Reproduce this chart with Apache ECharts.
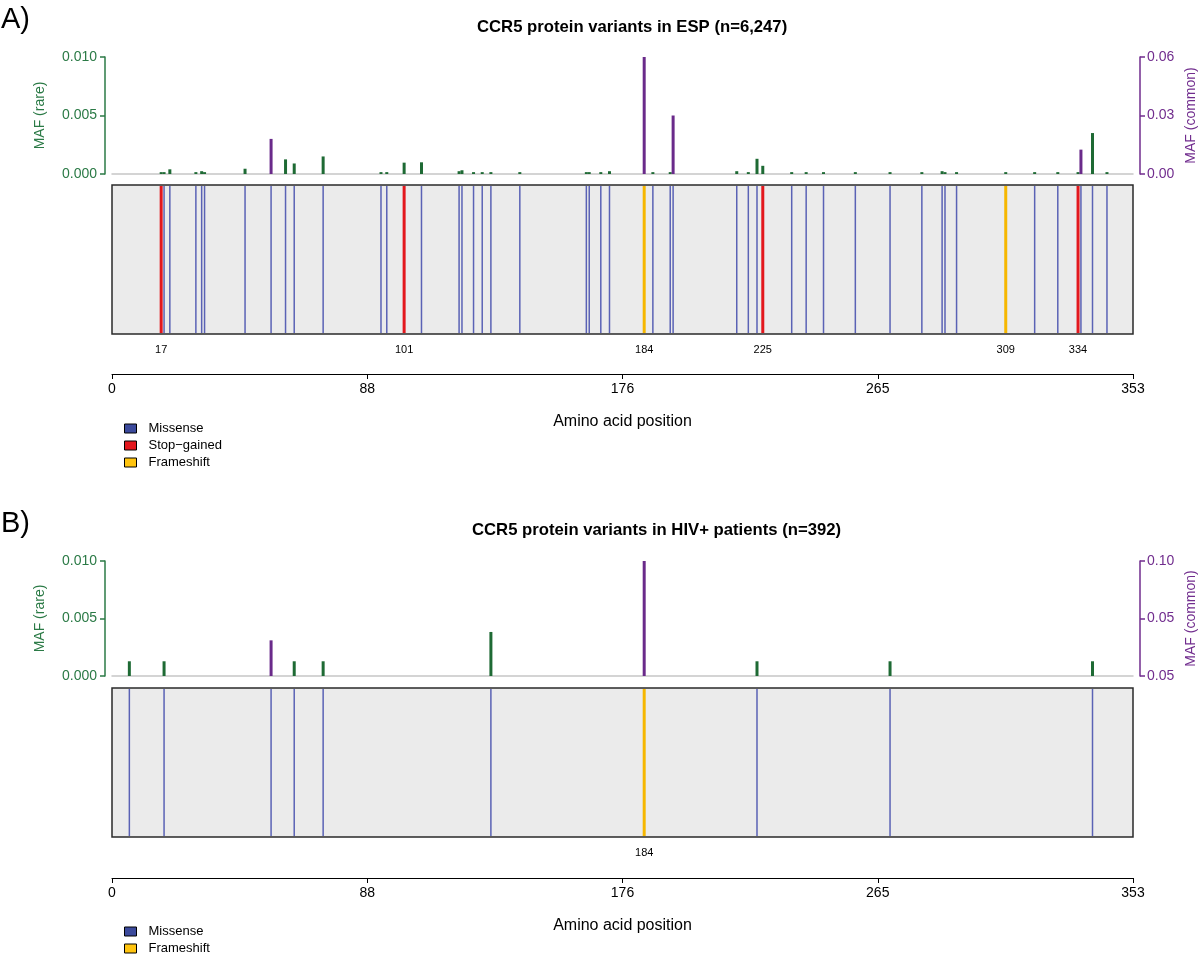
<!DOCTYPE html>
<html>
<head>
<meta charset="utf-8">
<title>CCR5 protein variants</title>
<style>
    html, body { margin: 0; padding: 0; background: #fff; }
    #chart { width: 1200px; height: 957px; }
</style>
</head>
<body>
<div id="chart"></div>
<script src="https://cdn.jsdelivr.net/npm/echarts@6.0.0/dist/echarts.min.js"></script>
<script>
    // panel A : ESP (n=6,247)
    var posA = [17, 18, 20, 29, 31, 32, 46, 55, 60, 63, 73, 93, 95, 101, 107, 120, 121, 125, 128, 131, 141,
        164, 165, 169, 172, 184, 187, 193, 194, 216, 220, 223, 225, 235, 240, 246, 257, 269, 280,
        287, 288, 292, 309, 319, 327, 334, 335, 339, 344];
    // M = missense, S = stop-gained, F = frameshift
    var typeA = ['S', 'M', 'M', 'M', 'M', 'M', 'M', 'M', 'M', 'M', 'M', 'M', 'M', 'S', 'M', 'M', 'M', 'M', 'M', 'M', 'M',
        'M', 'M', 'M', 'M', 'F', 'M', 'M', 'M', 'M', 'M', 'M', 'S', 'M', 'M', 'M', 'M', 'M', 'M',
        'M', 'M', 'M', 'F', 'M', 'M', 'S', 'M', 'M', 'M'];
    var rareA = [0.00016, 0.00016, 0.0004, 0.00016, 0.00024, 0.00016, 0.00045, 0, 0.00125, 0.0009, 0.0015,
        0.00016, 0.00016, 0.00097, 0.001, 0.00024, 0.00032, 0.00016, 0.00016, 0.00016, 0.00016,
        0.00016, 0.00016, 0.00016, 0.00024, 0, 0.00016, 0.00016, 0, 0.00024, 0.00016, 0.0013, 0.0007,
        0.00016, 0.00016, 0.00016, 0.00016, 0.00016, 0.00016, 0.00024, 0.00016, 0.00016, 0.00016,
        0.00016, 0.00016, 0.00016, 0, 0.0035, 0.00016];
    var commonA = [0, 0, 0, 0, 0, 0, 0, 0.018, 0, 0, 0, 0, 0, 0, 0, 0, 0, 0, 0, 0, 0,
        0, 0, 0, 0, 0.06, 0, 0, 0.03, 0, 0, 0, 0, 0, 0, 0, 0, 0, 0,
        0, 0, 0, 0, 0, 0, 0, 0.0125, 0, 0];

    // panel B : HIV+ patients (n=392)
    var posB = [6, 18, 55, 63, 73, 131, 184, 223, 269, 339];
    var typeB = ['M', 'M', 'M', 'M', 'M', 'M', 'F', 'M', 'M', 'M'];
    var rareB = [0.00128, 0.00128, 0, 0.00128, 0.00128, 0.00383, 0, 0.00128, 0.00128, 0.00128];
    var commonB = [0, 0, 0.031, 0, 0, 0, 0.10, 0, 0, 0];

    var posTicks = [0, 88, 176, 265, 353];
    var commonTicksB = ['0.05', '0.05', '0.10'];

    var FONT = 'Liberation Sans, Arial, Helvetica, sans-serif';
    var GREEN = '#2b7a46', GREEN_BAR = '#1e6a34';
    var PURPLE = '#712d8e', PURPLE_BAR = '#6a2a8a';
    var typeStyle = {
        M: {name: 'Missense', color: '#5a62b5', width: 1.5, legend: '#3b4a9c'},
        S: {name: 'Stop\u2212gained', color: '#e3171d', width: 3, legend: '#e3171d'},
        F: {name: 'Frameshift', color: '#f6b700', width: 3, legend: '#ffc40f'}
    };

    var chart = echarts.init(document.getElementById('chart'));

    function pick(pos, vals) {
        var out = [];
        for (var i = 0; i < pos.length; i++) {
            if (vals[i] > 0) out.push([pos[i], vals[i]]);
        }
        return out;
    }

    function ofType(pos, types, t) {
        var out = [];
        for (var i = 0; i < pos.length; i++) {
            if (types[i] === t) out.push([pos[i], 1]);
        }
        return out;
    }

    // thin vertical bar from 0 up to the value
    function barRender(color) {
        return function (params, api) {
            var top = api.coord([api.value(0), api.value(1)]);
            var bot = api.coord([api.value(0), 0]);
            return {
                type: 'rect',
                shape: {x: top[0] - 1.5, y: top[1], width: 3, height: bot[1] - top[1]},
                style: {fill: color}
            };
        };
    }

    function lineRender(color, width) {
        return function (params, api) {
            var top = api.coord([api.value(0), 1]);
            var bot = api.coord([api.value(0), 0]);
            return {
                type: 'line',
                shape: {x1: top[0], y1: top[1] + 1, x2: bot[0], y2: bot[1] - 1},
                style: {stroke: color, lineWidth: width}
            };
        };
    }

    function labelRender(params, api) {
        var p = api.coord([api.value(0), 0]);
        return {
            type: 'text',
            x: p[0],
            y: p[1] + 16,
            style: {text: String(api.value(0)), fill: '#000', font: '11px ' + FONT, align: 'center', verticalAlign: 'middle'}
        };
    }

    var grids = [], xAxes = [], yAxes = [], series = [], legends = [], graphics = [];

    function addPanel(o) {
        var g = grids.length;
        // bars
        grids.push({left: 112, right: 67, top: o.barTop, height: o.barH});
        // box
        grids.push({left: 112, right: 67, top: o.boxTop, height: 149, show: true,
            backgroundColor: '#ebebeb', borderColor: '#2a2a2a', borderWidth: 1.5});
        // position axis
        grids.push({left: 112, right: 67, top: o.axisTop, height: 1});

        var xa = xAxes.length;
        xAxes.push({gridIndex: g, type: 'value', min: 0, max: 353, axisLine: {show: true, lineStyle: {color: '#c6c6c6', width: 1.5}},
            axisTick: {show: false}, axisLabel: {show: false}, splitLine: {show: false}});
        xAxes.push({gridIndex: g + 1, type: 'value', min: 0, max: 353, show: false});
        xAxes.push({gridIndex: g + 2, type: 'value', min: 0, max: 353, interval: 88.25,
            axisLine: {show: true, onZero: false, lineStyle: {color: '#000', width: 1}},
            axisTick: {show: true, length: 5, lineStyle: {color: '#000'}},
            axisLabel: {show: true, margin: 8, color: '#000', fontSize: 14, fontFamily: FONT,
                formatter: function (v, i) { return String(posTicks[i]); }},
            splitLine: {show: false},
            name: 'Amino acid position', nameLocation: 'middle', nameGap: 40,
            nameTextStyle: {color: '#000', fontSize: 16, fontFamily: FONT}});

        var ya = yAxes.length;
        yAxes.push({gridIndex: g, type: 'value', position: 'left', offset: 7, min: 0, max: 0.01, interval: 0.005,
            axisLine: {show: true, onZero: false, lineStyle: {color: GREEN, width: 1.5}},
            axisTick: {show: true, length: 5, lineStyle: {color: GREEN, width: 1.5}},
            axisLabel: {margin: 8, color: GREEN, fontSize: 14, fontFamily: FONT,
                formatter: function (v) { return v.toFixed(3); }},
            splitLine: {show: false},
            name: 'MAF (rare)', nameLocation: 'middle', nameGap: 58, nameRotate: 90,
            nameTextStyle: {color: GREEN, fontSize: 14, fontFamily: FONT}});
        yAxes.push({gridIndex: g, type: 'value', position: 'right', offset: 7, min: 0, max: o.commonMax, interval: o.commonMax / 2,
            axisLine: {show: true, onZero: false, lineStyle: {color: PURPLE, width: 1.5}},
            axisTick: {show: true, length: 5, lineStyle: {color: PURPLE, width: 1.5}},
            axisLabel: {margin: 7, color: PURPLE, fontSize: 14, fontFamily: FONT, formatter: o.commonFmt},
            splitLine: {show: false}});
        yAxes.push({gridIndex: g + 1, type: 'value', min: 0, max: 1, show: false});
        yAxes.push({gridIndex: g + 2, type: 'value', min: 0, max: 1, show: false});

        graphics.push({type: 'text', x: 1191, y: o.barTop + o.barH / 2, rotation: Math.PI / 2,
            style: {text: 'MAF (common)', fill: PURPLE, font: '14px ' + FONT, align: 'center', verticalAlign: 'middle'}});

        series.push({type: 'custom', name: 'rare', xAxisIndex: xa, yAxisIndex: ya,
            renderItem: barRender(GREEN_BAR), data: pick(o.pos, o.rare), silent: true});
        series.push({type: 'custom', name: 'common', xAxisIndex: xa, yAxisIndex: ya + 1,
            renderItem: barRender(PURPLE_BAR), data: pick(o.pos, o.common), silent: true});

        ['M', 'F', 'S'].forEach(function (t) {
            var d = ofType(o.pos, o.types, t);
            if (!d.length) return;
            var s = typeStyle[t];
            series.push({type: 'custom', name: s.name, xAxisIndex: xa + 1, yAxisIndex: ya + 2,
                itemStyle: {color: s.legend}, renderItem: lineRender(s.color, s.width), data: d, silent: true});
        });

        var lab = [];
        for (var i = 0; i < o.pos.length; i++) {
            if (o.types[i] !== 'M') lab.push([o.pos[i], 0]);
        }
        series.push({type: 'custom', name: 'labels', xAxisIndex: xa + 1, yAxisIndex: ya + 2, clip: false,
            renderItem: labelRender, data: lab, silent: true});

        legends.push({
            orient: 'vertical', left: 124, top: o.legendTop, padding: 0, itemGap: 4,
            itemWidth: 12, itemHeight: 9, icon: 'rect', selectedMode: false,
            itemStyle: {borderColor: '#000', borderWidth: 1},
            textStyle: {color: '#000', fontSize: 13, fontFamily: FONT, padding: [0, 0, 0, 7]},
            data: o.legend.map(function (t) {
                return {name: typeStyle[t].name, itemStyle: {color: typeStyle[t].legend}};
            })
        });
    }

    addPanel({
        pos: posA, types: typeA, rare: rareA, common: commonA,
        barTop: 57, barH: 117, boxTop: 185, axisTop: 373, legendTop: 422,
        commonMax: 0.06, commonFmt: function (v) { return v.toFixed(2); },
        legend: ['M', 'S', 'F']
    });
    addPanel({
        pos: posB, types: typeB, rare: rareB, common: commonB,
        barTop: 561, barH: 115, boxTop: 688, axisTop: 877, legendTop: 925,
        commonMax: 0.1, commonFmt: function (v, i) { return commonTicksB[i]; },
        legend: ['M', 'F']
    });

    var option = {
        animation: false,
        backgroundColor: '#fff',
        title: [
            {text: 'A)', left: 1, top: 5, padding: 0, textStyle: {fontSize: 29, fontWeight: 'normal', color: '#000', fontFamily: FONT}},
            {text: 'CCR5 protein variants in ESP (n=6,247)', left: 477, top: 19, padding: 0,
                textStyle: {fontSize: 16.7, fontWeight: 'bold', color: '#000', fontFamily: FONT}},
            {text: 'B)', left: 1, top: 509, padding: 0, textStyle: {fontSize: 29, fontWeight: 'normal', color: '#000', fontFamily: FONT}},
            {text: 'CCR5 protein variants in HIV+ patients (n=392)', left: 472, top: 522, padding: 0,
                textStyle: {fontSize: 16.7, fontWeight: 'bold', color: '#000', fontFamily: FONT}}
        ],
        legend: legends,
        graphic: graphics,
        grid: grids,
        xAxis: xAxes,
        yAxis: yAxes,
        series: series
    };
    chart.setOption(option);
</script>
</body>
</html>
